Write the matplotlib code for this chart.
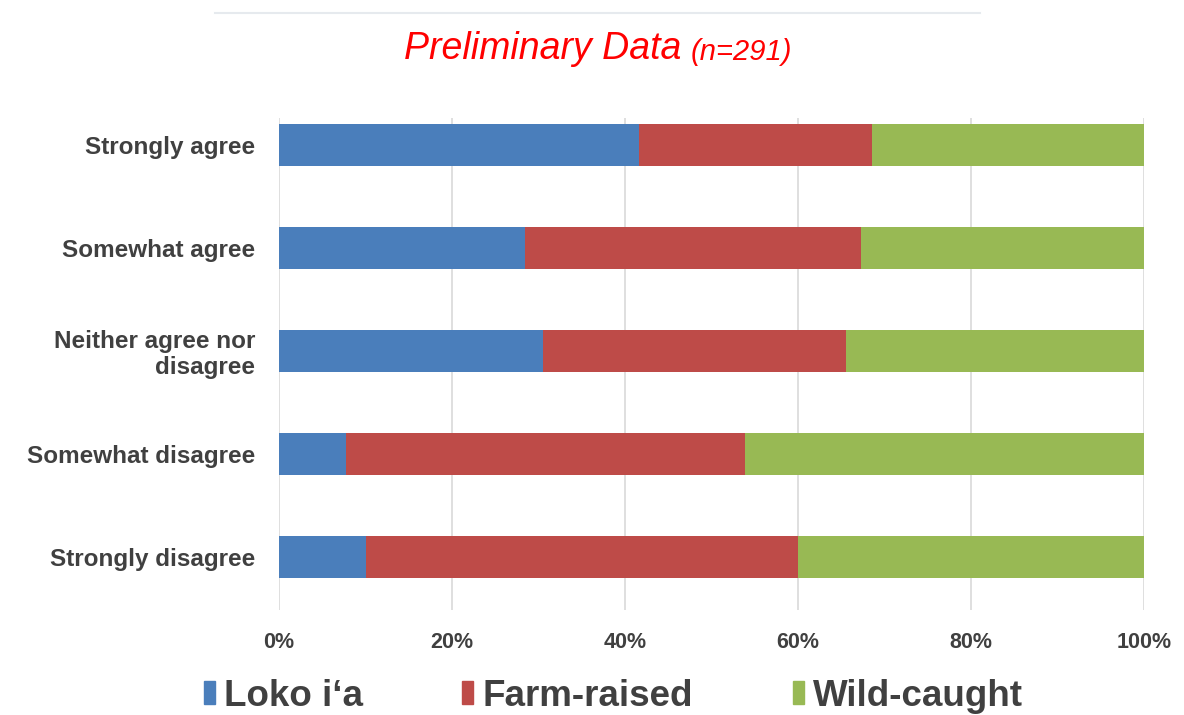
import matplotlib
matplotlib.use("Agg")
import matplotlib.pyplot as plt
from matplotlib.patches import Patch
from matplotlib.lines import Line2D
from matplotlib.ticker import FuncFormatter

categories = ["Strongly agree", "Somewhat agree", "Neither agree nor\ndisagree",
              "Somewhat disagree", "Strongly disagree"]
loko_ia = [41.6, 28.4, 30.5, 7.7, 10.0]
farm_raised = [27.0, 38.9, 35.0, 46.2, 50.0]
wild_caught = [31.4, 32.7, 34.5, 46.1, 40.0]
series_names = ["Loko i\u2018a", "Farm-raised", "Wild-caught"]
xticks = [0, 20, 40, 60, 80, 100]

colors = ["#4A7EBB", "#BE4B48", "#98B954"]

plt.rcParams['font.family'] = ['Liberation Sans', 'DejaVu Sans']

fig = plt.figure(figsize=(11.84, 7.15), dpi=100)
ax = fig.add_axes([279/1184, 1-610/715, 865/1184, 492/715])

ypos = list(range(len(categories)))
left = [0]*len(categories)
for vals, c, name in zip([loko_ia, farm_raised, wild_caught], colors, series_names):
    ax.barh(ypos, vals, left=left, height=0.4, color=c, label=name, zorder=3)
    left = [l + v for l, v in zip(left, vals)]

ax.set_xlim(0, 100)
ax.set_ylim(4.515, -0.262)
ax.set_xticks(xticks)
ax.xaxis.set_major_formatter(FuncFormatter(lambda v, p: f"{int(v)}%"))
ax.set_yticks(ypos)
ax.set_yticklabels(categories)
ax.grid(axis='x', color='#D9D9D9', linewidth=1.2, zorder=0)
for s in ax.spines.values():
    s.set_visible(False)
ax.tick_params(axis='both', length=0)
ax.tick_params(axis='y', pad=17)
ax.tick_params(axis='x', pad=16)
for lab in ax.get_yticklabels():
    lab.set_fontsize(17.5)
    lab.set_fontweight('bold')
    lab.set_color('#404040')
    lab.set_linespacing(1.15)
for lab in ax.get_xticklabels():
    lab.set_fontsize(15.5)
    lab.set_fontweight('bold')
    lab.set_color('#404040')

handles = [Patch(color=c) for c in colors]
leg = fig.legend(handles, series_names, loc='center', bbox_to_anchor=(0.518, 1-696/715),
                 ncol=3, frameon=False, handlelength=0.3, handleheight=0.55,
                 handletextpad=0.25, columnspacing=2.7,
                 prop={'weight': 'bold', 'size': 26.5})
for t in leg.get_texts():
    t.set_color('#404040')

fig.add_artist(Line2D([215/1184, 980/1184], [1-13/715, 1-13/715], color='#E6EAEE', linewidth=1.5))

t1 = fig.text(404/1184, 1-49/715, "Preliminary Data", color='#FF0000', fontsize=27,
              style='italic', va='center', ha='left')
fig.canvas.draw()
bb = t1.get_window_extent()
fig.text((bb.x1 + 9)/1184, 1-52/715, "(n=291)", color='#FF0000', fontsize=21,
         style='italic', va='center', ha='left')

fig.savefig("out.png", dpi=100)
